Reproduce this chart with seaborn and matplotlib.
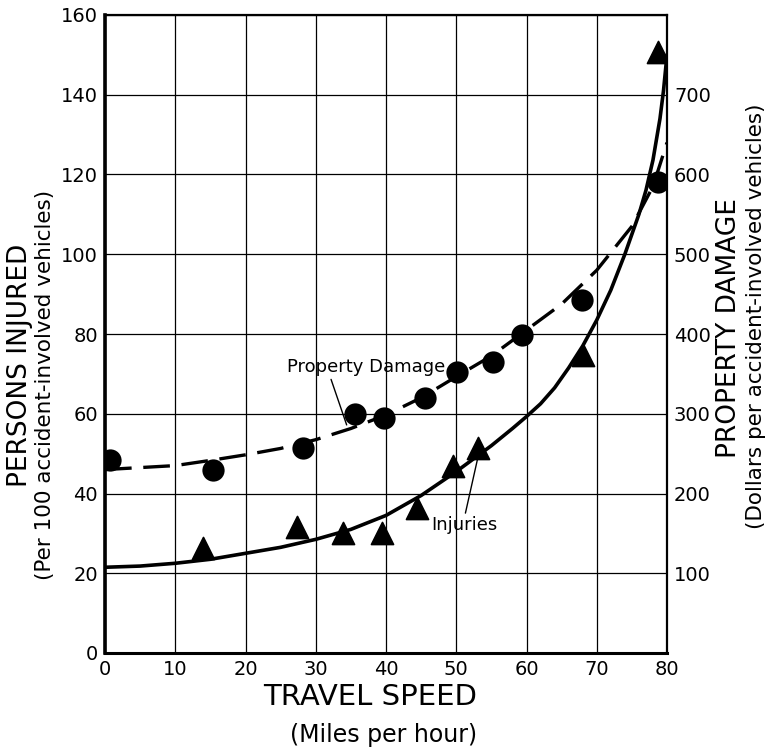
import matplotlib
matplotlib.use("Agg")
import matplotlib.pyplot as plt
import seaborn as sns
import pandas as pd

# measured points (travel speed, mph)
damage_speed = [0.7, 15.4, 28.2, 35.6, 39.7, 45.6, 50.1, 55.2, 59.4, 67.9, 78.7]
damage_value = [48.4, 45.9, 51.4, 60.0, 59.0, 64.0, 70.5, 73.0, 79.7, 88.5, 118.0]

injury_speed = [14.0, 27.3, 33.9, 39.4, 44.4, 49.6, 53.1, 68.0, 78.7]
injury_value = [26.3, 31.6, 30.0, 30.0, 36.4, 47.0, 51.4, 74.7, 150.7]

# fitted curves
injury_curve_x = [0, 5, 10, 15, 20, 25, 30, 35, 40, 45, 50, 55, 58, 60, 62, 64,
                  66, 68, 70, 72, 74, 76, 77, 78, 79, 79.5, 80]
injury_curve_y = [21.5, 21.8, 22.5, 23.5, 25, 26.5, 28.5, 31, 34.5, 39.5, 45.5,
                  52, 56.3, 59.3, 62.5, 66.5, 71.5, 77, 83.5, 91, 100, 110,
                  116, 123.6, 134, 141, 150]

damage_curve_x = [0, 5, 10, 15, 20, 25, 30, 35, 40, 45, 50, 55, 60, 65, 70, 75,
                  78, 80]
damage_curve_y = [46, 46.5, 47, 48.3, 49.7, 51.3, 53.5, 56.3, 59.7, 64, 69.3,
                  74.5, 81, 87.5, 96, 107, 117, 128]

x_ticks = list(range(0, 81, 10))
left_ticks = list(range(0, 161, 20))
right_ticks = list(range(100, 701, 100))

sns.set_theme(style="white")
plt.rcParams["font.family"] = ["DejaVu Sans"]
plt.rcParams["text.color"] = "black"

fig = plt.figure(figsize=(7.74, 7.55), dpi=100)
ax = fig.add_axes([105 / 774, 1 - 653 / 755, (667 - 105) / 774, (653 - 15) / 755])

dmg_pts = pd.DataFrame({"speed": damage_speed, "value": damage_value})
inj_pts = pd.DataFrame({"speed": injury_speed, "value": injury_value})
inj_curve = pd.DataFrame({"speed": injury_curve_x, "value": injury_curve_y})
dmg_curve = pd.DataFrame({"speed": damage_curve_x, "value": damage_curve_y})

sns.lineplot(data=inj_curve, x="speed", y="value", ax=ax, color="black",
             linewidth=2.6, sort=False, estimator=None)
sns.lineplot(data=dmg_curve, x="speed", y="value", ax=ax, color="black",
             linewidth=2.4, sort=False, estimator=None,
             linestyle=(0, (8, 3.5)))
sns.scatterplot(data=dmg_pts, x="speed", y="value", ax=ax, marker="o",
                s=220, color="black", edgecolor="black", zorder=5)
sns.scatterplot(data=inj_pts, x="speed", y="value", ax=ax, marker="^",
                s=250, color="black", edgecolor="black", zorder=5)

ax.set_xlim(0, 80)
ax.set_ylim(0, 160)
ax.set_xticks(x_ticks)
ax.set_yticks(left_ticks)
ax.grid(True, color="black", linewidth=0.9)
ax.set_xlabel("")
ax.set_ylabel("")
for s in ax.spines.values():
    s.set_color("black")
    s.set_linewidth(1.6)
ax.spines["left"].set_linewidth(2.6)
ax.spines["bottom"].set_linewidth(2.2)
ax.tick_params(axis="both", length=0, labelsize=14, colors="black", pad=5)

ax2 = ax.twinx()
ax2.set_ylim(0, 800)
ax2.set_yticks(right_ticks)
ax2.tick_params(axis="y", length=0, labelsize=14, colors="black", pad=5)
ax2.grid(False)
for s in ax2.spines.values():
    s.set_visible(False)

# annotations
ax.annotate("Property Damage", xy=(34.4, 57.2), xytext=(37.2, 71.7),
            ha="center", va="center", fontsize=13, color="black",
            arrowprops=dict(arrowstyle="-", color="black", lw=1.0,
                            relpos=(0.27, 0.0), shrinkA=0, shrinkB=0))
ax.annotate("Injuries", xy=(53.1, 49.2), xytext=(51.2, 32.0),
            ha="center", va="center", fontsize=13, color="black",
            arrowprops=dict(arrowstyle="-", color="black", lw=1.0,
                            relpos=(0.5, 1.0), shrinkA=0, shrinkB=0))

# axis titles
fig.text(20 / 774, 1 - 365 / 755, "PERSONS INJURED", rotation=90,
         ha="center", va="center", fontsize=19, color="black")
fig.text(45 / 774, 1 - 385 / 755, "(Per 100 accident-involved vehicles)",
         rotation=90, ha="center", va="center", fontsize=15.5, color="black")
fig.text(729 / 774, 1 - 328 / 755, "PROPERTY DAMAGE", rotation=90,
         ha="center", va="center", fontsize=19, color="black")
fig.text(756 / 774, 1 - 316 / 755, "(Dollars per accident-involved vehicles)",
         rotation=90, ha="center", va="center", fontsize=15.5, color="black")
fig.text(370 / 774, 1 - 697 / 755, "TRAVEL SPEED", ha="center", va="center",
         fontsize=21, color="black")
fig.text(384 / 774, 1 - 735 / 755, "(Miles per hour)", ha="center",
         va="center", fontsize=17, color="black")

fig.savefig("out.png", dpi=100, facecolor="white")
